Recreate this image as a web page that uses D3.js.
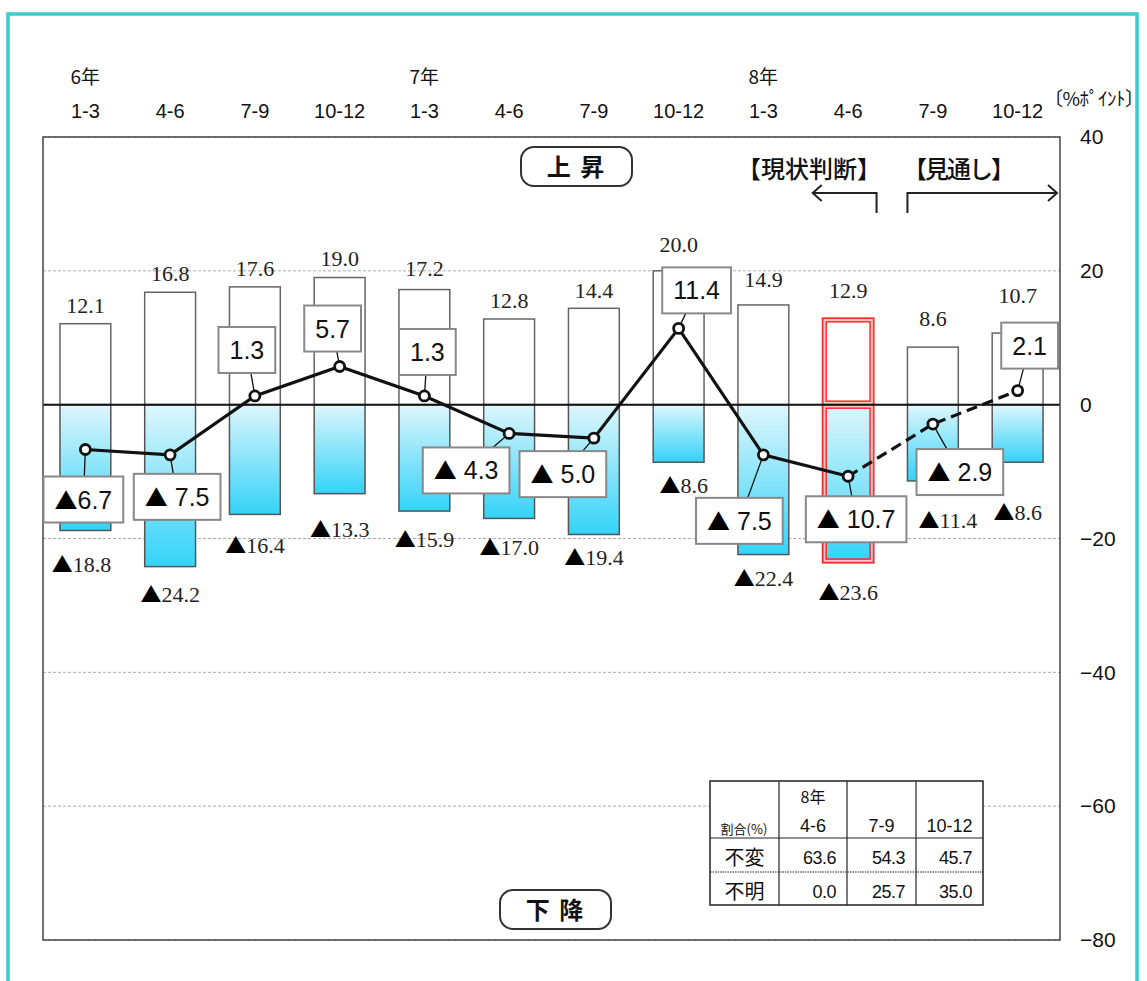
<!DOCTYPE html>
<html>
<head>
<meta charset="utf-8">
<script src="https://cdn.jsdelivr.net/npm/d3@7"></script>
<style>
  body { margin: 0; background: #fff; }
</style>
</head>
<body>
<svg id="chart" width="1147" height="981"></svg>
<script>
// ---- data ----
const quarters = ['1-3', '4-6', '7-9', '10-12', '1-3', '4-6', '7-9', '10-12', '1-3', '4-6', '7-9', '10-12'];
const years = ['6年', '', '', '', '7年', '', '', '', '8年', '', '', ''];
const upShare = [12.1, 16.8, 17.6, 19.0, 17.2, 12.8, 14.4, 20.0, 14.9, 12.9, 8.6, 10.7];
const downShare = [-18.8, -24.2, -16.4, -13.3, -15.9, -17.0, -19.4, -8.6, -22.4, -23.6, -11.4, -8.6];
const diValues = [-6.7, -7.5, 1.3, 5.7, 1.3, -4.3, -5.0, 11.4, -7.5, -10.7, -2.9, 2.1];
const yTicks = [40, 20, 0, -20, -40, -60, -80];
const currentIndex = 9;   // 8年 4-6 : 現状判断, after that 見通し

const tableYear = '8年';
const tableCols = ['4-6', '7-9', '10-12'];
const tableRows = ['不変', '不明'];
const unchanged = [63.6, 54.3, 45.7];
const unknown = [0.0, 25.7, 35.0];

// ---- label layout tweaks (offsets only) ----
const calloutOffset = [[-2, 50], [7, 42], [-8, -46], [-7, -38], [3, -44], [-43, 37],
                       [-31, 36], [18, -38], [-24, 66], [8, 43], [27, 48], [12, -45]];
const upLabelGap = [11, 11, 11, 12, 14, 11, 10, 19, 18, 20, 21, 30];
const downLabelGap = [42, 35, 39, 43, 36, 37, 31, 31, 31, 37, 47, 58];
const downLabelDx = [-4, 0, 0, 0, 0, 0, 0, 5, 0, 0, 15, 0];

const serif = '"Liberation Serif", "DejaVu Serif", serif';
const sans = '"Liberation Sans", Arial, sans-serif';
const cjk = '"Noto Sans CJK JP", "Noto Sans", sans-serif';

const plot = {left: 43, right: 1060, top: 137, bottom: 940};

const svg = d3.select('#chart');

// outer teal frame
svg.append('rect')
  .attr('x', 8).attr('y', 14)
  .attr('width', 1129).attr('height', 1010)
  .attr('fill', 'none')
  .attr('stroke', '#3ccaca')
  .attr('stroke-width', 3.5);

var x = d3.scaleBand()
  .domain(d3.range(quarters.length))
  .range([plot.left, plot.right])
  .paddingInner(0.4)
  .paddingOuter(0.2);

var y = d3.scaleLinear()
  .domain([-80, 40])
  .range([plot.bottom, plot.top]);

var bw = x.bandwidth();
var cx = function(i) { return x(i) + bw / 2; };

var defs = svg.append('defs');
var grad = defs.append('linearGradient')
  .attr('id', 'downFill')
  .attr('x1', 0).attr('y1', 0).attr('x2', 0).attr('y2', 1);
grad.append('stop').attr('offset', '0%').attr('stop-color', '#def6fc');
grad.append('stop').attr('offset', '100%').attr('stop-color', '#33d3f8');

// plot area
svg.append('rect')
  .attr('x', plot.left).attr('y', plot.top)
  .attr('width', plot.right - plot.left).attr('height', plot.bottom - plot.top)
  .attr('fill', '#fff');

svg.append('g')
  .selectAll('line')
  .data(yTicks.filter(function(t) { return t !== 0; }))
  .enter()
  .append('line')
  .attr('x1', plot.left).attr('x2', plot.right)
  .attr('y1', function(d) { return y(d); })
  .attr('y2', function(d) { return y(d); })
  .attr('stroke', '#aaa')
  .attr('stroke-width', 1)
  .attr('stroke-dasharray', '3,2');

// right axis labels
var yAxis = d3.axisRight(y)
  .tickValues(yTicks)
  .tickSize(0)
  .tickPadding(20)
  .tickFormat(function(d) { return d < 0 ? '\u2212' + (-d) : d; });

var ya = svg.append('g')
  .attr('transform', 'translate(' + plot.right + ',0)')
  .call(yAxis);
ya.select('.domain').remove();
ya.selectAll('text')
  .attr('font-family', sans)
  .attr('font-size', 21)
  .attr('fill', '#111');

// top quarter labels
var xAxis = d3.axisTop(x)
  .tickSize(0)
  .tickPadding(0)
  .tickFormat(function(i) { return quarters[i]; });

var xa = svg.append('g')
  .attr('transform', 'translate(0,118)')
  .call(xAxis);
xa.select('.domain').remove();
xa.selectAll('text')
  .attr('font-family', sans)
  .attr('font-size', 20)
  .attr('fill', '#111');

svg.append('g')
  .selectAll('text')
  .data(years.map(function(t, i) { return {t: t, i: i}; }).filter(function(d) { return d.t !== ''; }))
  .enter()
  .append('text')
  .attr('x', function(d) { return cx(d.i) - 15; })
  .attr('y', 84)
  .attr('font-family', cjk)
  .attr('font-size', 19)
  .attr('fill', '#111')
  .text(function(d) { return d.t; });

svg.append('text')
  .attr('x', 1044).attr('y', 106)
  .attr('font-family', cjk)
  .attr('font-size', 19)
  .attr('letter-spacing', -0.5)
  .attr('fill', '#111')
  .text('〔%ﾎﾟｲﾝﾄ〕');

// bars
var bars = svg.append('g');

bars.selectAll('rect.up')
  .data(upShare)
  .enter()
  .append('rect')
  .attr('class', 'up')
  .attr('x', function(d, i) { return x(i); })
  .attr('y', function(d) { return y(d); })
  .attr('width', bw)
  .attr('height', function(d) { return y(0) - y(d); })
  .attr('fill', '#fff')
  .attr('stroke', function(d, i) { return i === currentIndex ? '#ff2a2a' : '#666'; })
  .attr('stroke-width', function(d, i) { return i === currentIndex ? 2 : 1.5; });

bars.selectAll('rect.down')
  .data(downShare)
  .enter()
  .append('rect')
  .attr('class', 'down')
  .attr('x', function(d, i) { return x(i); })
  .attr('y', y(0))
  .attr('width', bw)
  .attr('height', function(d) { return y(d) - y(0); })
  .attr('fill', 'url(#downFill)')
  .attr('stroke', function(d, i) { return i === currentIndex ? '#ff2a2a' : '#555'; })
  .attr('stroke-width', function(d, i) { return i === currentIndex ? 2 : 1.5; });

// double red frame for the current quarter
[[upShare[currentIndex], 0], [0, downShare[currentIndex]]].forEach(function(r) {
  var y0 = y(r[0]), y1 = y(r[1]);
  bars.append('rect')
    .attr('x', x(currentIndex) + 2).attr('y', y0 + 2)
    .attr('width', bw - 4).attr('height', y1 - y0 - 4)
    .attr('fill', 'none').attr('stroke', '#ffc4c4').attr('stroke-width', 2);
  bars.append('rect')
    .attr('x', x(currentIndex) + 3.5).attr('y', y0 + 3.5)
    .attr('width', bw - 7).attr('height', y1 - y0 - 7)
    .attr('fill', 'none').attr('stroke', '#ff2a2a').attr('stroke-width', 1.5);
});

// zero line
svg.append('line')
  .attr('x1', plot.left).attr('x2', plot.right)
  .attr('y1', y(0)).attr('y2', y(0))
  .attr('stroke', '#111').attr('stroke-width', 2);

// plot border
svg.append('rect')
  .attr('x', plot.left).attr('y', plot.top)
  .attr('width', plot.right - plot.left).attr('height', plot.bottom - plot.top)
  .attr('fill', 'none')
  .attr('stroke', '#444')
  .attr('stroke-width', 1.5);

// bar value labels
svg.append('g')
  .selectAll('text')
  .data(upShare)
  .enter()
  .append('text')
  .attr('x', function(d, i) { return cx(i); })
  .attr('y', function(d, i) { return y(d) - upLabelGap[i]; })
  .attr('text-anchor', 'middle')
  .attr('font-family', serif)
  .attr('font-size', 22)
  .attr('fill', '#222')
  .text(function(d) { return d.toFixed(1); });

var downLabels = svg.append('g')
  .selectAll('text')
  .data(downShare)
  .enter()
  .append('text')
  .attr('x', function(d, i) { return cx(i) + downLabelDx[i]; })
  .attr('y', function(d, i) { return y(d) + downLabelGap[i]; })
  .attr('text-anchor', 'middle')
  .attr('font-family', serif)
  .attr('font-size', 22)
  .attr('fill', '#222');
downLabels.append('tspan')
  .attr('font-family', cjk)
  .attr('font-size', 21)
  .attr('fill', '#000')
  .text('▲');
downLabels.append('tspan')
  .text(function(d) { return (-d).toFixed(1); });

// diffusion index line
var line = d3.line()
  .x(function(d) { return cx(d.i); })
  .y(function(d) { return y(d.v); });

var pts = diValues.map(function(v, i) { return {i: i, v: v}; });

svg.append('path')
  .datum(pts.slice(0, currentIndex + 1))
  .attr('d', line)
  .attr('fill', 'none')
  .attr('stroke', '#111')
  .attr('stroke-width', 3.2);

svg.append('path')
  .datum(pts.slice(currentIndex))
  .attr('d', line)
  .attr('fill', 'none')
  .attr('stroke', '#111')
  .attr('stroke-width', 3.2)
  .attr('stroke-dasharray', '11,6');

// leader lines
svg.append('g')
  .selectAll('line')
  .data(pts)
  .enter()
  .append('line')
  .attr('x1', function(d) { return cx(d.i); })
  .attr('y1', function(d) { return y(d.v); })
  .attr('x2', function(d) { return cx(d.i) + calloutOffset[d.i][0]; })
  .attr('y2', function(d) { return y(d.v) + calloutOffset[d.i][1]; })
  .attr('stroke', '#111')
  .attr('stroke-width', 1.3);

svg.append('g')
  .selectAll('circle')
  .data(pts)
  .enter()
  .append('circle')
  .attr('cx', function(d) { return cx(d.i); })
  .attr('cy', function(d) { return y(d.v); })
  .attr('r', 5)
  .attr('fill', '#fff')
  .attr('stroke', '#111')
  .attr('stroke-width', 2.8);

// callout boxes
var callouts = svg.append('g')
  .selectAll('g')
  .data(pts)
  .enter()
  .append('g')
  .attr('transform', function(d) {
    return 'translate(' + (cx(d.i) + calloutOffset[d.i][0]) + ',' + (y(d.v) + calloutOffset[d.i][1]) + ')';
  });

var ctext = callouts.append('text')
  .attr('text-anchor', 'middle')
  .attr('dy', '0.36em')
  .attr('font-family', sans)
  .attr('font-size', 25)
  .attr('fill', '#111');
ctext.filter(function(d) { return d.v < 0; })
  .append('tspan')
  .attr('font-family', cjk)
  .attr('font-size', 23)
  .attr('fill', '#000')
  .text('▲');
ctext.append('tspan')
  .text(function(d) { return d.v < 0 ? (d.i === 0 ? '' : ' ') + (-d.v).toFixed(1) : d.v.toFixed(1); });

callouts.each(function() {
  var g = d3.select(this);
  var w = g.select('text').node().getComputedTextLength() + 22;
  g.insert('rect', 'text')
    .attr('x', -w / 2).attr('y', -23)
    .attr('width', w).attr('height', 46)
    .attr('fill', '#fff')
    .attr('stroke', '#888')
    .attr('stroke-width', 2);
});

// 上昇 / 下降 tags
[['上 昇', 521, 147], ['下 降', 500, 890]].forEach(function(t) {
  svg.append('rect')
    .attr('x', t[1]).attr('y', t[2])
    .attr('width', 111).attr('height', 39)
    .attr('rx', 13)
    .attr('fill', '#fff')
    .attr('stroke', '#333')
    .attr('stroke-width', 2);
  svg.append('text')
    .attr('x', t[1] + 55.5).attr('y', t[2] + 29)
    .attr('text-anchor', 'middle')
    .attr('font-family', cjk)
    .attr('font-weight', 'bold')
    .attr('font-size', 24)
    .attr('letter-spacing', 2)
    .attr('fill', '#111')
    .text(t[0]);
});

// 現状判断 / 見通し
svg.append('text')
  .attr('x', 881).attr('y', 178)
  .attr('text-anchor', 'end')
  .attr('font-family', cjk)
  .attr('font-weight', 500)
  .attr('font-size', 24)
  .attr('fill', '#111')
  .text('【現状判断】');

svg.append('text')
  .attr('x', 903).attr('y', 178)
  .attr('font-family', cjk)
  .attr('font-weight', 500)
  .attr('font-size', 24)
  .attr('letter-spacing', -2)
  .attr('fill', '#111')
  .text('【見通し】');

var arrowY = 193;
var lx = x(currentIndex) + bw + 3, rx = x(currentIndex + 1);
var tipL = x(currentIndex) - 10, tipR = plot.right - 3;
svg.append('path')
  .attr('d', 'M' + lx + ',213V' + arrowY + 'H' + tipL +
             'M' + (tipL + 9) + ',' + (arrowY - 8) + 'L' + tipL + ',' + arrowY + 'L' + (tipL + 9) + ',' + (arrowY + 8))
  .attr('fill', 'none').attr('stroke', '#222').attr('stroke-width', 2);
svg.append('path')
  .attr('d', 'M' + rx + ',213V' + arrowY + 'H' + tipR +
             'M' + (tipR - 9) + ',' + (arrowY - 8) + 'L' + tipR + ',' + arrowY + 'L' + (tipR - 9) + ',' + (arrowY + 8))
  .attr('fill', 'none').attr('stroke', '#222').attr('stroke-width', 2);

// table
var colX = [710, 779, 847, 916, 983];
var rowY = [781, 838, 872, 905];
var tg = svg.append('g');

tg.append('rect')
  .attr('x', colX[0]).attr('y', rowY[0])
  .attr('width', colX[4] - colX[0]).attr('height', rowY[3] - rowY[0])
  .attr('fill', '#fff').attr('stroke', '#222').attr('stroke-width', 1.5);

colX.slice(1, 4).forEach(function(cxv) {
  tg.append('line').attr('x1', cxv).attr('x2', cxv).attr('y1', rowY[0]).attr('y2', rowY[3])
    .attr('stroke', '#222').attr('stroke-width', 1.2);
});
tg.append('line').attr('x1', colX[0]).attr('x2', colX[4]).attr('y1', rowY[1]).attr('y2', rowY[1])
  .attr('stroke', '#222').attr('stroke-width', 1.2);
tg.append('line').attr('x1', colX[0]).attr('x2', colX[4]).attr('y1', rowY[2]).attr('y2', rowY[2])
  .attr('stroke', '#222').attr('stroke-width', 1).attr('stroke-dasharray', '1.5,1');

tg.append('text')
  .attr('x', (colX[1] + colX[2]) / 2).attr('y', 803)
  .attr('text-anchor', 'middle')
  .attr('font-family', cjk).attr('font-size', 16).attr('fill', '#111')
  .text(tableYear);

tableCols.forEach(function(c, j) {
  tg.append('text')
    .attr('x', (colX[j + 1] + colX[j + 2]) / 2).attr('y', 832)
    .attr('text-anchor', 'middle')
    .attr('font-family', sans).attr('font-size', 18).attr('fill', '#111')
    .text(c);
});

tg.append('text')
  .attr('x', 744).attr('y', 834)
  .attr('text-anchor', 'middle')
  .attr('font-family', cjk).attr('font-size', 13).attr('fill', '#111')
  .text('割合(%)');

[unchanged, unknown].forEach(function(row, r) {
  var base = rowY[r + 1] + 27;
  tg.append('text')
    .attr('x', (colX[0] + colX[1]) / 2).attr('y', base)
    .attr('text-anchor', 'middle')
    .attr('font-family', cjk).attr('font-size', 20).attr('fill', '#111')
    .text(tableRows[r]);
  row.forEach(function(v, j) {
    tg.append('text')
      .attr('x', colX[j + 2] - 11).attr('y', base - 1)
      .attr('text-anchor', 'end')
      .attr('font-family', sans).attr('font-size', 18).attr('fill', '#111')
      .attr('letter-spacing', -0.5)
      .text(v.toFixed(1));
  });
});
</script>
</body>
</html>
